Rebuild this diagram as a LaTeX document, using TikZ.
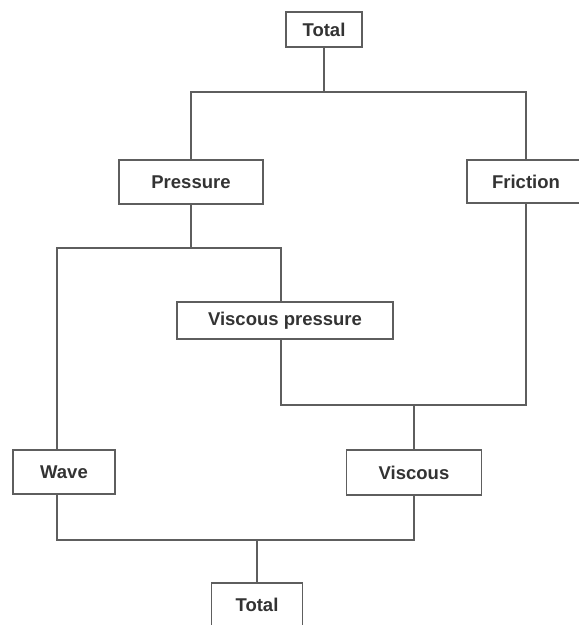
\documentclass[tikz,border=0pt]{standalone}
\usepackage{fontspec}
\setmainfont{Liberation Sans}
\usetikzlibrary{positioning}
\definecolor{linegray}{HTML}{5E5E5E}
\definecolor{textgray}{HTML}{333333}

\begin{document}
\begin{tikzpicture}[x=1pt,y=-1pt, line width=1.6pt, draw=linegray,
    box/.style={draw=linegray, fill=white, rectangle, inner sep=0pt, minimum height=44pt,
        text=textgray, font=\fontsize{18.5}{22}\selectfont\bfseries}]
    \useasboundingbox (0,0) rectangle (579,625);
    \clip (0,0) rectangle (579,625);
    \node[box, minimum width=76pt, minimum height=35pt] (top) at (324,29.5) {Total};
    \node[box, minimum width=144pt] (pressure) at (191,182) {Pressure};
    \node[box, minimum width=118pt, minimum height=43pt] (friction) at (526,181.5) {Friction};
    \node[box, minimum width=216pt, minimum height=37pt] (vp) at (285,320.5) {Viscous pressure};
    \node[box, minimum width=102pt] (wave) at (64,472) {Wave};
    \node[box, minimum width=135pt, minimum height=45pt] (viscous) at (414,472.5) {Viscous};
    \node[box, minimum width=91pt] (bottom) at (257,605) {Total};
    % branch points
    \coordinate (a1) at (324,92);
    \coordinate (a2) at (191,248);
    \coordinate (w1) at (57,248);
    \coordinate (v1) at (281,248);
    \coordinate (a3) at (414,405);
    \coordinate (a4) at (257,540);
    \draw (top.south) -- (a1);
    \draw (pressure.north) |- (a1) -| (friction.north);
    \draw (pressure.south) -- (a2);
    \draw (w1 |- wave.north) -- (w1) -- (v1) -- (v1 |- vp.north);
    \draw (v1 |- vp.south) |- (a3) -| (friction.south);
    \draw (a3) -- (viscous.north);
    \draw (w1 |- wave.south) |- (a4) -| (viscous.south);
    \draw (a4) -- (bottom.north);
\end{tikzpicture}
\end{document}
